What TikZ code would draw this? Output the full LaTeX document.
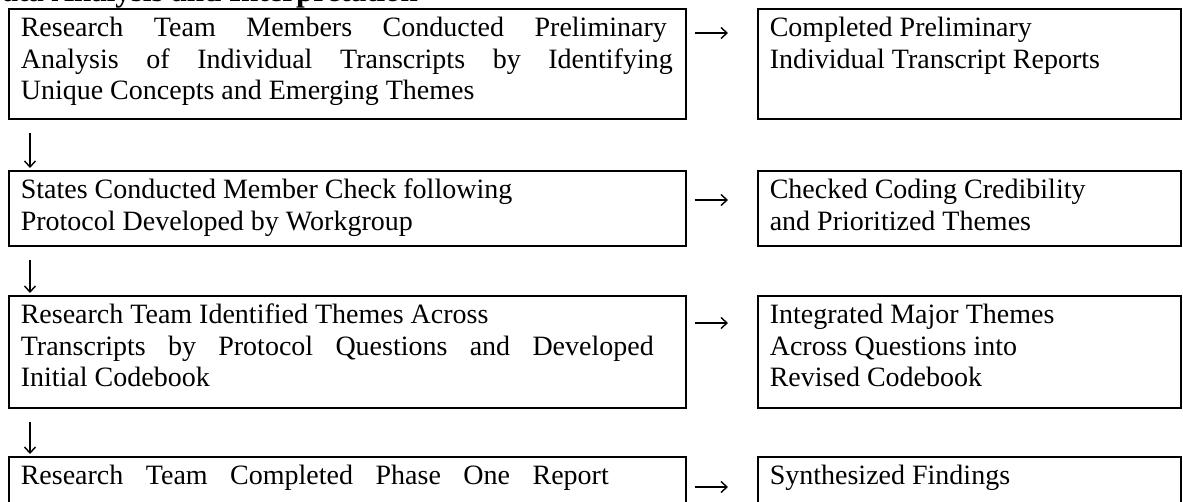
\documentclass[tikz,border=0pt]{standalone}
\usepackage{fontspec}
\setmainfont{Liberation Serif}
\usetikzlibrary{arrows.meta}
\hbadness=10000
\newcommand{\bx}[3]{\parbox[c][#2][t]{#1}{\raggedright\rule{0pt}{28pt}#3}}
\newcommand{\jline}[2]{\makebox[#1][s]{#2}}
\tikzset{
  stepbox/.style={draw, line width=1.6pt, anchor=north west, inner xsep=12pt, inner ysep=0pt,
    font=\fontsize{28pt}{31.6pt}\selectfont},
  arr/.style={line width=1.4pt, -{Straight Barb[length=6pt,width=11pt,line width=1.4pt]}},
  harr/.style={arr, shorten <=8pt, shorten >=29pt},
  varr/.style={arr, shorten <=13pt, shorten >=2pt},
}
\begin{document}
\begin{tikzpicture}[x=1pt,y=1pt]
\useasboundingbox (0,0) rectangle (1183,-502);
\clip (0,0) rectangle (1183,-502);
\node[anchor=base west, inner sep=0pt, font=\fontsize{31pt}{35pt}\selectfont\bfseries] (title) at (-20,-1.5) {Data Analysis and Interpretation};
% left column
\node[stepbox] (l1) at (8,-8) {\bx{653pt}{110pt}{\jline{646pt}{Research Team Members Conducted Preliminary}\\ \jline{652pt}{Analysis of Individual Transcripts by Identifying}\\ Unique Concepts and Emerging Themes}};
\node[stepbox] (l2) at (8,-170) {\bx{653pt}{75pt}{States Conducted Member Check following\\ Protocol Developed by Workgroup}};
\node[stepbox] (l3) at (8,-295) {\bx{653pt}{112pt}{Research Team Identified Themes Across\\ \jline{633pt}{Transcripts by Protocol Questions and Developed}\\ Initial Codebook}};
\node[stepbox] (l4) at (8,-456) {\bx{653pt}{80pt}{\jline{588pt}{Research Team Completed Phase One Report}}};
% right column
\node[stepbox] (r1) at (757,-8) {\bx{399pt}{110pt}{Completed Preliminary\\ Individual Transcript Reports}};
\node[stepbox] (r2) at (757,-170) {\bx{399pt}{75pt}{Checked Coding Credibility\\ and Prioritized Themes}};
\node[stepbox] (r3) at (757,-295) {\bx{399pt}{112pt}{Integrated Major Themes\\ Across Questions into\\ Revised Codebook}};
\node[stepbox] (r4) at (757,-456) {\bx{399pt}{80pt}{Synthesized Findings}};
% horizontal arrows
\draw[harr] ([yshift=-25pt]l1.north east) -- ([yshift=-25pt]r1.north west);
\draw[harr] ([yshift=-30pt]l2.north east) -- ([yshift=-30pt]r2.north west);
\draw[harr] ([yshift=-28pt]l3.north east) -- ([yshift=-28pt]r3.north west);
\draw[harr] ([yshift=-31pt]l4.north east) -- ([yshift=-31pt]r4.north west);
% vertical arrows
\draw[varr] ([xshift=22pt]l1.south west) -- ([xshift=22pt]l2.north west);
\draw[varr] ([xshift=22pt]l2.south west) -- ([xshift=22pt]l3.north west);
\draw[varr] ([xshift=22pt]l3.south west) -- ([xshift=22pt]l4.north west);
\end{tikzpicture}
\end{document}
